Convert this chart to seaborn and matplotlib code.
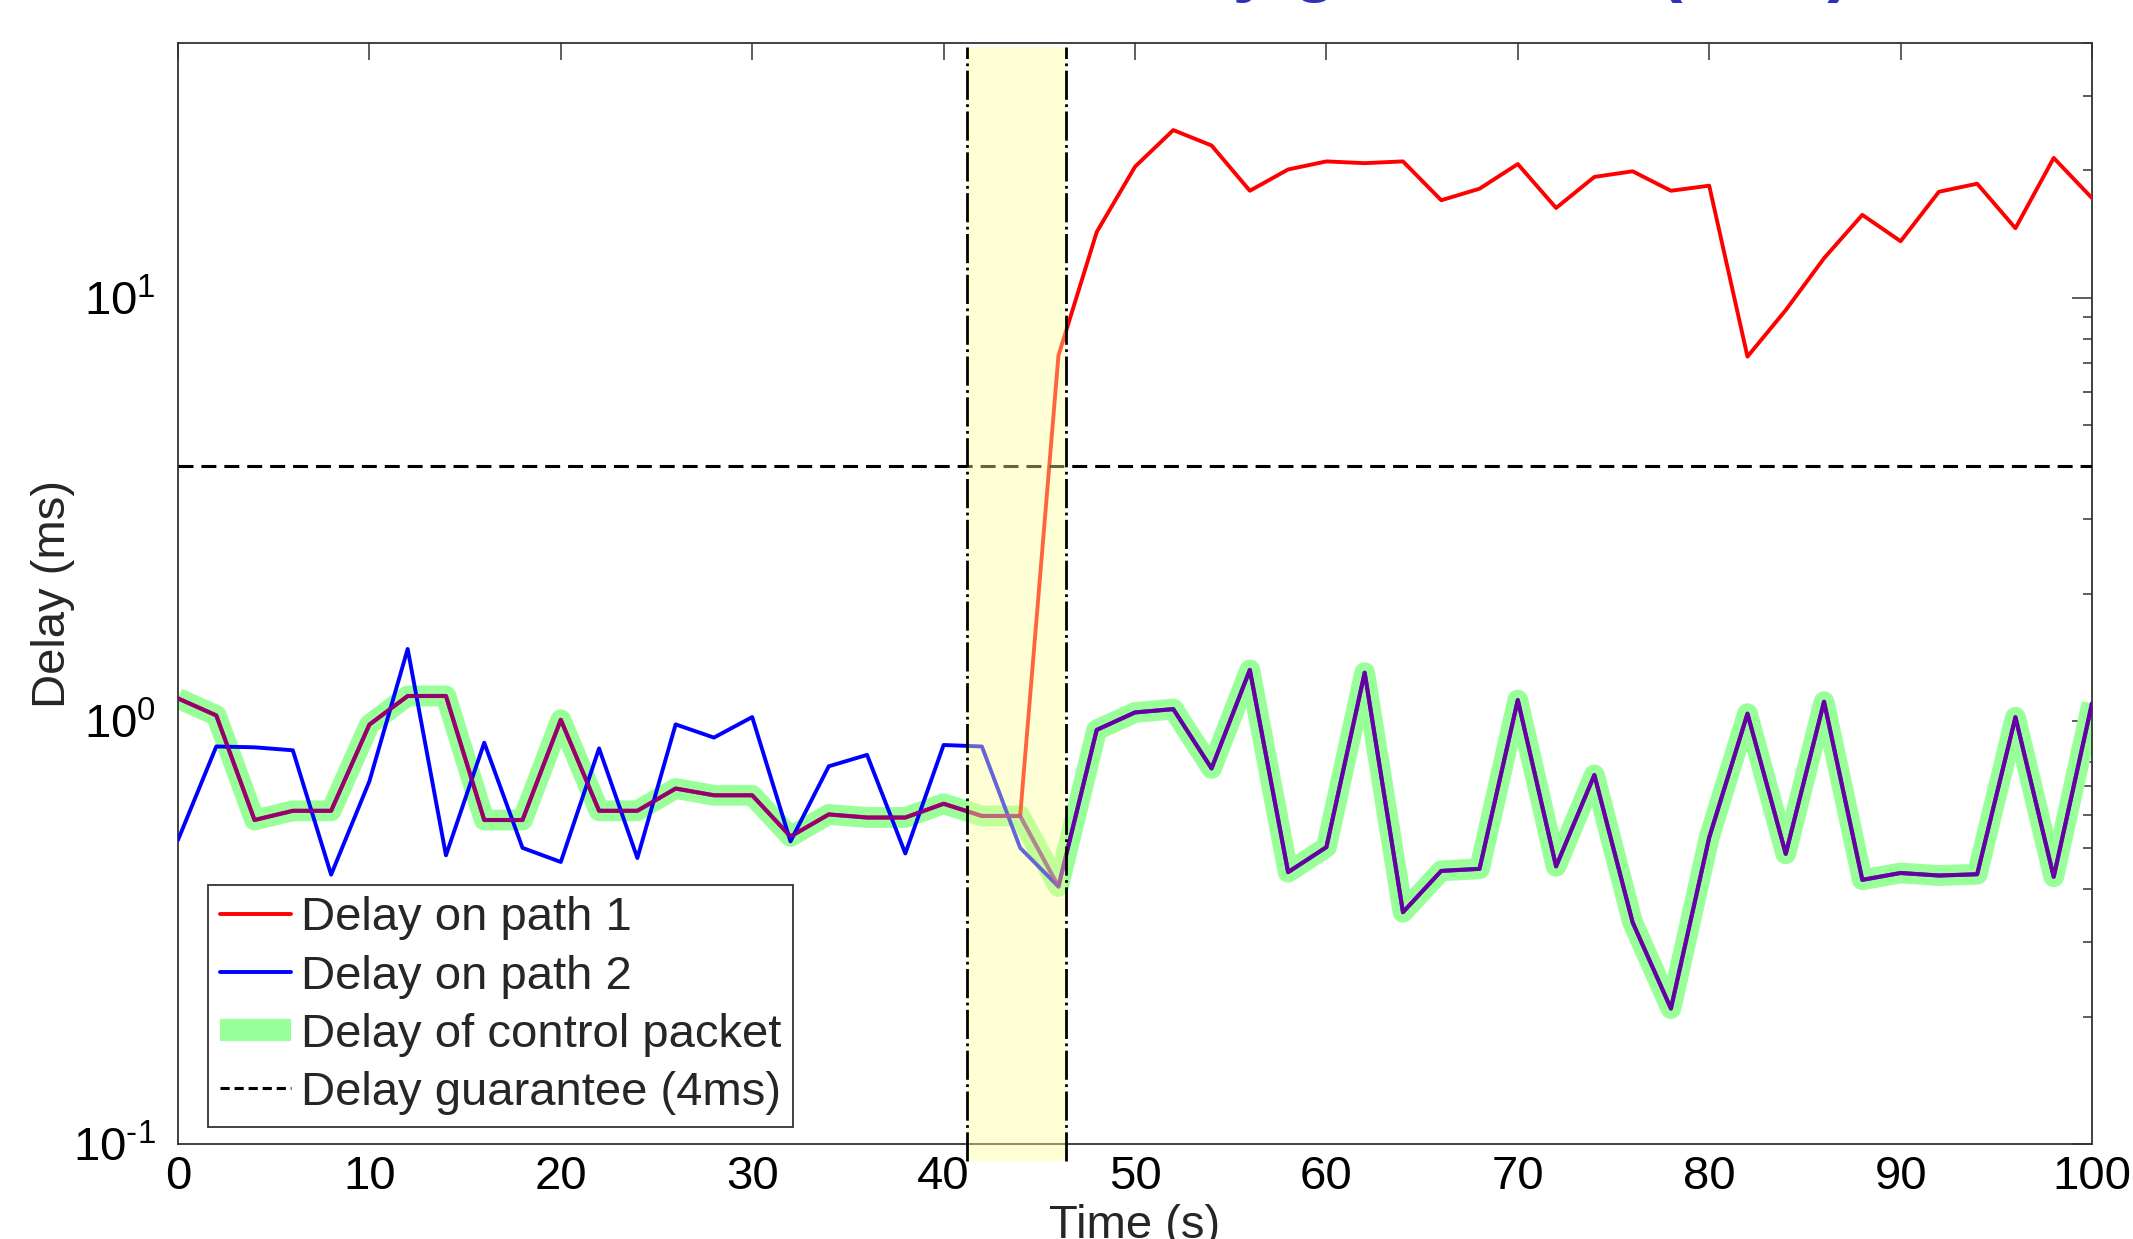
import numpy as np
import pandas as pd
import matplotlib
matplotlib.use("Agg")
import matplotlib.pyplot as plt
import matplotlib.transforms as mtransforms
from matplotlib.patches import Rectangle
from matplotlib.lines import Line2D
from matplotlib.ticker import LogLocator, NullFormatter, FixedLocator, FuncFormatter
import seaborn as sns

# ---------------- data ----------------
time_s = list(range(0, 101, 2))

path1_delay = [1.13, 1.03, 0.583, 0.613, 0.613, 0.98, 1.145, 1.145, 0.583, 0.583,
               1.006, 0.613, 0.613, 0.692, 0.667, 0.667, 0.533, 0.601, 0.591, 0.591,
               0.637, 0.596, 0.596,
               7.3, 14.3, 20.4, 24.9, 22.9, 17.9, 20.1, 21.0, 20.8, 21.0,
               17.0, 18.1, 20.7, 16.3, 19.3, 19.9, 17.9, 18.4, 7.26, 9.35,
               12.4, 15.7, 13.6, 17.8, 18.6, 14.6, 21.4, 17.2]

path2_delay = [0.523, 0.870, 0.866, 0.852, 0.433, 0.72, 1.479, 0.481, 0.888, 0.501,
               0.464, 0.861, 0.474, 0.981, 0.913, 1.021, 0.519, 0.781, 0.831, 0.486,
               0.877, 0.870, 0.501, 0.406,
               0.952, 1.047, 1.066, 0.772, 1.32, 0.439, 0.503, 1.30, 0.353, 0.442,
               0.447, 1.12, 0.453, 0.745, 0.334, 0.209, 0.53, 1.04, 0.485, 1.11,
               0.421, 0.437, 0.431, 0.434, 1.02, 0.428, 1.10]

control_delay = [1.13, 1.03, 0.583, 0.613, 0.613, 0.98, 1.145, 1.145, 0.583, 0.583,
                 1.006, 0.613, 0.613, 0.692, 0.667, 0.667, 0.533, 0.601, 0.591, 0.591,
                 0.637, 0.596, 0.596, 0.406,
                 0.952, 1.047, 1.066, 0.772, 1.32, 0.439, 0.503, 1.30, 0.353, 0.442,
                 0.447, 1.12, 0.453, 0.745, 0.334, 0.209, 0.53, 1.04, 0.485, 1.11,
                 0.421, 0.437, 0.431, 0.434, 1.02, 0.428, 1.10]

guarantee_ms = 4.0
switch_start, switch_end = 41.2, 46.4
x_ticks = [0, 10, 20, 30, 40, 50, 60, 70, 80, 90, 100]
legend_labels = ["Delay on path 1", "Delay on path 2",
                 "Delay of control packet", "Delay guarantee (4ms)"]
title_text = "Delay guarantee (4ms)"

df = pd.DataFrame({"time": time_s, "path1": path1_delay,
                   "path2": path2_delay, "control": control_delay})

# ---------------- style ----------------
sns.set_theme(style="white")
plt.rcParams["font.family"] = ["Liberation Sans", "DejaVu Sans"]
plt.rcParams["mathtext.fontset"] = "custom"
plt.rcParams["mathtext.rm"] = "Liberation Sans"
plt.rcParams["mathtext.it"] = "Liberation Sans:italic"
plt.rcParams["mathtext.bf"] = "Liberation Sans:bold"
plt.rcParams["axes.unicode_minus"] = False

FS = 34
RED = "#ff0000"
BLUE = "#0000ff"
GREEN = "#99ff99"
OVER = (0.5, 0.0, 0.55)

fig = plt.figure(figsize=(21.33, 12.39), dpi=100)
ax = fig.add_axes([178 / 2133, 1 - 1144 / 1239, 1914 / 2133, 1101 / 1239])
ax.set_yscale("log")

sns.lineplot(data=df, x="time", y="control", ax=ax, color=GREEN, linewidth=15,
             solid_joinstyle="round", solid_capstyle="butt", zorder=2, legend=False)
sns.lineplot(data=df, x="time", y="path1", ax=ax, color=RED, linewidth=2.8,
             zorder=3, legend=False)
sns.lineplot(data=df, x="time", y="path2", ax=ax, color=BLUE, linewidth=2.8,
             zorder=3, legend=False)
sns.lineplot(data=df, x="time", y="control", ax=ax, color=OVER, linewidth=3.0,
             alpha=0.8, zorder=4, legend=False)

ax.axhline(guarantee_ms, color="black", linewidth=2.2, linestyle=(0, (4.9, 2.6)), zorder=3)

trans = mtransforms.blended_transform_factory(ax.transData, ax.transAxes)
ax.add_patch(Rectangle((switch_start, -0.0155), switch_end - switch_start, 1.012,
                       transform=trans, facecolor=(1, 1, 0.6), alpha=0.4,
                       edgecolor="none", clip_on=False, zorder=5))
for xv in (switch_start, switch_end):
    ax.axvline(xv, ymin=-0.0155, ymax=0.9964, color="black", linewidth=2.0,
               linestyle=(0, (10.5, 1.6, 1.0, 1.6)), clip_on=False, zorder=6)

ax.set_xlim(0, 100)
ax.set_ylim(0.1, 40)
ax.xaxis.set_major_locator(FixedLocator(x_ticks))
ax.yaxis.set_major_locator(LogLocator(base=10, numticks=10))
ax.yaxis.set_minor_locator(LogLocator(base=10, subs=np.arange(2, 10), numticks=20))
ax.yaxis.set_minor_formatter(NullFormatter())


def pow10_label(v, pos):
    e = int(round(np.log10(v)))
    es = ("\u2010%d" % (-e)) if e < 0 else "%d" % e
    return r"$\mathdefault{10^{%s}}$" % es


ax.yaxis.set_major_formatter(FuncFormatter(pow10_label))

ax.tick_params(axis="both", which="both", direction="in", top=True, right=True,
               colors="#333333", labelcolor="black", labelsize=FS, width=1.1)
ax.tick_params(axis="x", which="major", length=12, pad=8)
ax.tick_params(axis="x", which="minor", bottom=False, top=False)
ax.tick_params(axis="y", which="major", length=14.4, pad=16)
ax.tick_params(axis="y", which="minor", length=6.7)
for sp in ax.spines.values():
    sp.set_color("#333333")
    sp.set_linewidth(1.3)
    sp.set_visible(True)

ax.set_xlabel("Time (s)", fontsize=FS)
ax.set_ylabel("Delay (ms)", fontsize=FS)
ax.xaxis.set_label_coords(0.5, -0.0545)
ax.yaxis.set_label_coords(-0.0538, 0.5)

handles = [Line2D([], [], color=RED, linewidth=2.8),
           Line2D([], [], color=BLUE, linewidth=2.8),
           Line2D([], [], color=GREEN, linewidth=16, solid_capstyle="butt"),
           Line2D([], [], color="black", linewidth=2.2, linestyle=(0, (3.0, 1.6)))]
leg = ax.legend(handles, legend_labels, loc="lower left",
                bbox_to_anchor=(0.0159, 0.0157), borderaxespad=0, fontsize=FS,
                frameon=True, fancybox=False, framealpha=1, edgecolor="#333333",
                handlelength=1.5, handletextpad=0.2, borderpad=0.25,
                labelspacing=0.3)
leg.get_frame().set_linewidth(1.3)
leg.set_zorder(10)

fig.text(1080 / 2133, 1 + 12 / 1239, title_text, ha="left", va="baseline",
         fontsize=52, fontweight="bold", color="#3030b8")

fig.savefig("out.png", dpi=100)
